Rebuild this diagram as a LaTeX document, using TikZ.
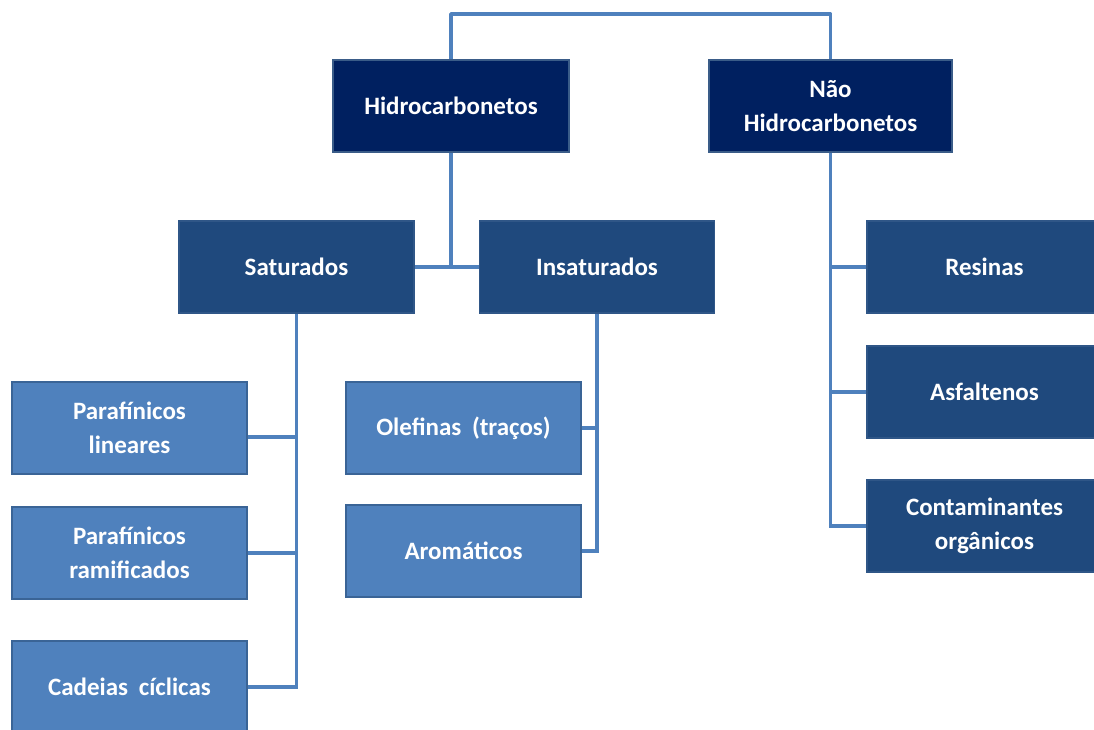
\documentclass[tikz,border=0pt]{standalone}
\usepackage{fontspec}
\setmainfont{Carlito}
\begin{document}
\begin{tikzpicture}[x=1pt,y=-1pt,
  box/.style={rectangle, minimum width=235pt, minimum height=92pt, line width=1.8pt,
    text=white, align=center, inner sep=0pt,
    font=\fontsize{25}{34}\selectfont\bfseries},
  topbox/.style={box, fill=c1, draw=c1b},
  midbox/.style={box, fill=c2, draw=c2b},
  lowbox/.style={box, fill=c3, draw=c3b},
  link/.style={draw=c3, line width=3.6pt}]
\definecolor{c1}{HTML}{002060}
\definecolor{c1b}{HTML}{3A5C88}
\definecolor{c2}{HTML}{1F497D}
\definecolor{c2b}{HTML}{2F5687}
\definecolor{c3}{HTML}{4F81BD}
\definecolor{c3b}{HTML}{3A6496}
\useasboundingbox (0,0) rectangle (1094,729);
\clip (0,0) rectangle (1094,729);
\node[topbox, minimum width=236pt] (hid) at (451,106) {Hidrocarbonetos};
\node[topbox, minimum width=243pt] (nao) at (830.5,106) {Não\\Hidrocarbonetos};
\node[midbox] (sat) at (296.5,267) {Saturados};
\node[midbox] (ins) at (597,267) {Insaturados};
\node[lowbox] (pl) at (129.5,428) {Parafínicos\\lineares};
\node[lowbox] (pr) at (129.5,553) {Parafínicos\\ramificados};
\node[lowbox] (cc) at (129.5,687) {Cadeias\hspace{0.2em} cíclicas};
\node[lowbox] (ol) at (463.5,428) {Olefinas\hspace{0.2em} (traços)};
\node[lowbox] (ar) at (463.5,551) {Aromáticos};
\node[midbox] (res) at (984.5,267) {Resinas};
\node[midbox] (asf) at (984.5,392) {Asfaltenos};
\node[midbox] (con) at (984.5,526) {Contaminantes\\orgânicos};
\coordinate (top) at (451,14);
\coordinate (plj) at ([yshift=-9pt]pl.east);
% top connector
\draw[link, line join=round] (hid.north) -- (top) -| (nao.north);
% hidrocarbonetos to its children
\draw[link] (hid.south) -- (hid.south |- sat.east);
\draw[link] (sat.east) -- (ins.west);
% saturados
\draw[link] (sat.south) -- (sat.south |- cc.east) -- (cc.east);
\draw[link] (plj) -- (plj -| sat.south);
\draw[link] (pr.east) -- (pr.east -| sat.south);
% insaturados
\draw[link] (ins.south) -- (ins.south |- ar.east) -- (ar.east);
\draw[link] (ol.east) -- (ol.east -| ins.south);
% nao hidrocarbonetos
\draw[link] (nao.south) -- (nao.south |- con.west) -- (con.west);
\draw[link] (res.west) -- (res.west -| nao.south);
\draw[link] (asf.west) -- (asf.west -| nao.south);
\end{tikzpicture}
\end{document}
